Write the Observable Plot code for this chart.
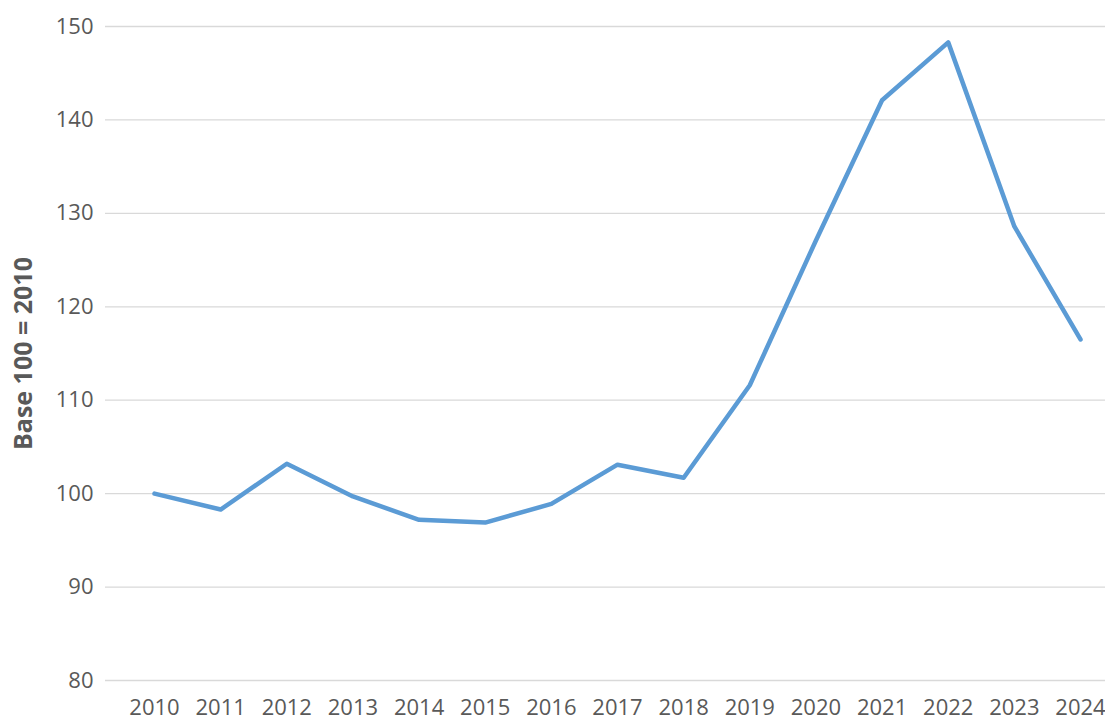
<!DOCTYPE html>
<html>
<head>
<meta charset="UTF-8">
<script src="https://cdn.jsdelivr.net/npm/d3@7"></script>
<script src="https://cdn.jsdelivr.net/npm/@observablehq/plot@0.6"></script>
<style>body{margin:0;background:#fff}</style>
</head>
<body>
<div id="chart"></div>
<script>
const years = [2010,2011,2012,2013,2014,2015,2016,2017,2018,2019,2020,2021,2022,2023,2024];
const values = [100,98.3,103.2,99.7,97.2,96.9,98.9,103.1,101.7,111.6,127.1,142.1,148.3,128.6,116.5];
const yTicks = [80,90,100,110,120,130,140,150];

const data = years.map((y, i) => ({year: y, value: values[i]}));

const plot = Plot.plot({
  width: 1105,
  height: 726,
  marginLeft: 105,
  marginRight: 0,
  marginTop: 26,
  marginBottom: 46,
  style: {fontFamily: "'Open Sans', sans-serif", color: "#595959"},
  x: {domain: [2010, 2024], range: [154, 1080], label: null},
  y: {domain: [80, 150], label: null},
  marks: [
    Plot.gridY(yTicks, {stroke: "#d9d9d9", strokeOpacity: 1, strokeWidth: 1.3}),
    Plot.axisY({ticks: yTicks, tickSize: 0, tickPadding: 12, fontSize: 22, label: null}),
    Plot.axisX({ticks: years, tickSize: 0, tickPadding: 19, tickFormat: d => String(d), fontSize: 22, label: null}),
    Plot.line(data, {x: "year", y: "value", stroke: "#5B9BD5", strokeWidth: 4.5, strokeLinejoin: "round"}),
    Plot.text(["Base 100 = 2010"], {frameAnchor: "left", dx: -82, rotate: -90, textAnchor: "middle", fontWeight: "bold", fontSize: 25, fill: "#595959"})
  ]
});
document.querySelector("#chart").append(plot);
</script>
</body>
</html>
